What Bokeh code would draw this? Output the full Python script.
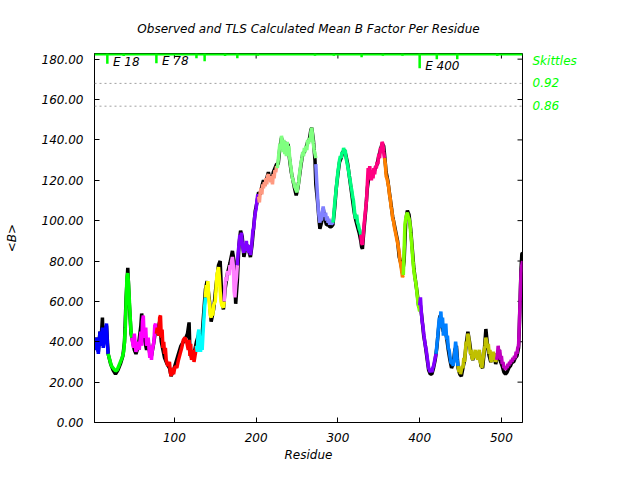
from bokeh.plotting import figure
from bokeh.models import Range1d, LinearAxis, Span, Label, NumeralTickFormatter, FixedTicker
from bokeh.embed import file_html
from bokeh.resources import INLINE

title_text = "Observed and TLS Calculated Mean B Factor Per Residue"
x_title = "Residue"
y_title = "<B>"

# ---- TLS calculated mean B, one list of (residue, B) per TLS segment ----
seg_01 = [(2, 40), (4, 36), (5, 42), (7, 34), (9, 45), (10, 38), (12, 47), (13, 37), (15, 44), (17, 49), (18, 39), (19, 34)]
seg_02 = [(19, 34), (21, 31), (23, 28), (25, 27), (28, 25.6), (30, 26), (32, 28), (34, 30), (36, 32), (38, 35), (39, 40),
          (40, 47), (41, 60), (42, 72), (43, 74), (44, 68), (45, 60), (46, 52), (47, 45), (48, 42)]
seg_03 = [(48, 42), (50, 37), (51, 44), (53, 35), (55, 40), (57, 36), (59, 45), (60, 38), (61, 50), (62, 53), (63, 42),
          (65, 47), (66, 38), (68, 42), (69, 36), (70, 32), (71, 38), (72, 31), (73, 36), (75, 40), (76, 48), (77, 49), (78, 44)]
seg_04 = [(78, 44), (79, 47), (81, 43), (82, 52), (83, 53), (84, 42), (85, 46), (86, 37), (87, 40), (88, 34), (89, 37),
          (90, 31), (92, 28), (94, 30), (95, 25), (96, 23), (97, 27), (99, 24), (101, 28), (103, 27), (105, 31), (107, 34),
          (109, 37), (111, 41), (113, 42), (115, 40), (117, 36), (118, 41), (119, 33), (120, 39), (121, 31), (123, 36),
          (124, 30), (126, 35), (127, 38)]
seg_05 = [(127, 38), (128, 35), (129, 44), (130, 46), (131, 40), (132, 35), (133, 42), (134, 36), (135, 44), (137, 57), (138, 62)]
seg_06 = [(138, 62), (139, 68), (140, 65), (141, 70), (142, 62), (143, 58), (144, 53), (145, 52), (146, 55), (147, 53),
          (148, 58), (150, 60), (151, 66), (152, 73), (153, 75), (154, 77), (155, 72), (156, 65), (157, 60), (158, 58),
          (160, 57), (161, 60)]
seg_07 = [(161, 60), (162, 68), (163, 72), (164, 70), (165, 75), (167, 73), (168, 78), (169, 76), (170, 80), (171, 82),
          (172, 78), (173, 65), (174, 62), (175, 68), (176, 72), (177, 78)]
seg_08 = [(177, 78), (178, 84), (179, 88), (180, 93), (181, 91), (182, 94), (183, 89), (184, 86), (185, 84), (186, 88),
          (187, 85), (188, 90), (189, 86), (190, 88), (191, 84), (192, 86), (193, 83), (194, 86), (195, 90), (196, 95),
          (197, 96), (198, 101), (199, 104), (200, 106), (201, 110), (202, 113), (203, 112)]
seg_09 = [(203, 112), (204, 109), (205, 114), (206, 116), (207, 113), (208, 118), (209, 116), (210, 119), (211, 117),
          (212, 121), (213, 118), (214, 122), (215, 123), (216, 120), (217, 122), (218, 119), (219, 121), (220, 118),
          (221, 123), (222, 121), (223, 125), (224, 124), (225, 127), (226, 126)]
seg_10 = [(226, 126), (227, 130), (228, 134), (229, 138), (230, 136), (231, 142), (232, 139), (233, 134), (234, 140),
          (235, 133), (236, 138), (237, 132), (238, 139), (239, 133), (240, 137), (241, 131), (242, 128), (243, 125),
          (244, 122), (245, 120), (246, 119), (247, 117), (248, 116), (249, 115), (250, 114), (251, 117), (252, 119),
          (253, 123), (254, 126), (255, 129), (256, 131), (257, 134), (258, 132), (259, 136), (260, 134), (261, 137),
          (262, 135), (263, 140), (264, 138), (265, 141), (266, 139), (267, 144), (268, 146), (269, 142), (270, 138),
          (271, 135), (272, 133), (273, 131)]
seg_11 = [(273, 128), (274, 120), (275, 113), (276, 106), (277, 102), (278, 99), (279, 103), (280, 100), (281, 104),
          (282, 107), (283, 104), (284, 102), (285, 104), (286, 100), (287, 102), (288, 99), (289, 101), (290, 98),
          (291, 100), (292, 98), (293, 99), (294, 98)]
seg_12 = [(294, 99), (295, 103), (296, 108), (297, 112), (298, 116), (299, 120), (300, 124), (301, 127), (302, 130),
          (303, 132), (304, 131), (305, 134), (306, 133), (307, 136), (308, 134), (309, 135), (310, 131), (311, 129),
          (312, 127), (313, 125), (314, 122), (315, 120), (316, 117), (317, 115), (318, 112), (319, 110), (320, 106),
          (321, 102), (322, 101), (323, 103), (324, 99), (325, 98), (326, 96), (327, 95), (328, 93)]
seg_13 = [(328, 93), (329, 89), (330, 88), (331, 93), (332, 98), (333, 102), (334, 106), (335, 110), (336, 118), (337, 126),
          (338, 124), (339, 127), (340, 122), (341, 120), (342, 125), (343, 121), (344, 126), (345, 123), (346, 127),
          (347, 126), (348, 129), (349, 128), (350, 133), (351, 131), (352, 136), (353, 134), (354, 139), (355, 138),
          (356, 134), (357, 131)]
seg_14 = [(357, 131), (358, 128), (359, 122), (360, 121), (361, 119), (362, 117), (363, 113), (364, 111), (365, 107),
          (366, 105), (367, 101), (368, 100), (369, 97), (370, 95), (371, 93), (372, 91), (373, 89), (374, 87), (375, 84),
          (376, 80), (377, 78), (378, 75), (379, 72), (380, 73)]
seg_15 = [(380, 73), (381, 85), (382, 98), (383, 101), (384, 103), (385, 104), (386, 102), (387, 101), (388, 99), (389, 94),
          (390, 90), (391, 84), (392, 79), (393, 75), (394, 72), (395, 70), (396, 67), (397, 63), (398, 59), (399, 57), (400, 55)]
seg_16 = [(400, 58), (401, 62), (402, 55), (403, 50), (404, 48), (405, 44), (406, 41), (407, 38), (408, 36), (409, 33),
          (410, 30), (411, 27), (412, 26), (413, 25), (414, 26), (415, 25), (416, 27), (417, 28), (418, 30), (419, 32), (420, 34)]
seg_17 = [(420, 34), (421, 38), (422, 42), (423, 47), (424, 52), (425, 50), (426, 55), (427, 47), (428, 52), (429, 43),
          (430, 48), (431, 45), (432, 49), (433, 41), (434, 43), (435, 37), (436, 36), (437, 33), (438, 30), (439, 29),
          (440, 31), (441, 28), (442, 31), (443, 35), (444, 40), (445, 36), (446, 31), (447, 28)]
seg_18 = [(447, 28), (448, 25), (449, 27), (450, 24), (451, 26), (452, 28), (453, 27), (454, 32), (455, 30), (456, 36),
          (457, 40), (458, 38), (459, 44), (460, 42), (461, 38), (462, 34), (463, 36), (464, 32), (465, 31), (466, 35),
          (467, 33), (468, 36), (469, 32), (470, 35), (471, 31), (472, 34), (473, 36), (474, 30), (475, 29), (476, 27),
          (477, 30), (478, 33), (479, 36), (480, 38), (481, 42), (482, 40), (483, 37), (484, 39), (485, 34), (486, 36),
          (487, 31), (488, 30), (489, 33), (490, 35), (491, 32), (492, 34), (493, 30), (494, 31)]
seg_19 = [(494, 31), (495, 33), (496, 38), (497, 34), (498, 36), (499, 31), (500, 33), (501, 29), (502, 30), (503, 27),
          (504, 28), (505, 26), (506, 28), (507, 27), (508, 29), (509, 28), (510, 30), (511, 29), (512, 31), (513, 30),
          (514, 32), (515, 31), (516, 33), (517, 32), (518, 35), (519, 34), (520, 37), (521, 38), (522, 50), (523, 62),
          (524, 74), (525, 78), (526, 80)]

segments = [seg_01, seg_02, seg_03, seg_04, seg_05, seg_06, seg_07, seg_08, seg_09, seg_10,
            seg_11, seg_12, seg_13, seg_14, seg_15, seg_16, seg_17, seg_18, seg_19]
segment_colors = ["#0000ff", "#00ff00", "#ff00ff", "#ff0000", "#00ffff", "#ffff00", "#ff80ff", "#8000ff", "#ff9980",
                  "#80ff80", "#8080ff", "#00ff80", "#ff0080", "#ff8000", "#80ff00", "#8000ff", "#0080ff", "#c0c000", "#c000c0"]

# ---- observed mean B ----
observed = [(2, 41), (4, 37), (5, 42), (7, 35), (9, 45), (10, 39), (12, 52), (13, 38), (15, 44), (17, 48), (19, 34), (22, 29),
            (25, 26), (28, 24), (31, 26), (34, 29), (37, 33), (39, 40), (41, 62), (43, 76.6), (45, 58), (47, 44), (49, 40),
            (51, 36), (53, 34), (56, 38), (59, 48), (60, 54), (62, 44), (64, 40), (66, 36), (68, 40), (70, 34), (72, 33),
            (75, 40), (77, 46), (79, 45), (82, 50), (84, 40), (86, 36), (88, 32), (91, 29), (94, 27), (96, 23), (99, 26),
            (102, 30), (105, 34), (108, 38), (111, 40), (114, 42), (116, 44), (118, 49.6), (119, 36), (121, 32), (124, 34),
            (127, 40), (130, 44), (133, 38), (136, 55), (138, 66), (140, 70), (143, 60), (145, 50), (148, 56), (151, 68),
            (154, 78), (156, 80), (158, 62), (160, 56), (162, 66), (165, 74), (168, 79), (171, 85), (173, 80), (175, 58.8),
            (177, 70), (179, 88), (181, 95), (183, 92), (185, 82), (187, 86), (189, 88), (191, 85), (193, 82), (195, 88),
            (197, 97), (199, 105), (201, 109), (203, 114), (205, 113), (207, 117), (209, 120), (211, 118), (213, 121),
            (215, 124), (217, 120), (219, 120), (221, 124), (223, 126), (225, 128), (227, 128), (229, 136), (231, 141),
            (233, 137), (235, 139), (237, 136), (239, 138), (241, 130), (243, 124), (245, 120), (247, 116), (249, 112.5),
            (251, 116), (253, 122), (255, 128), (257, 133), (259, 134), (261, 136), (263, 139), (265, 140), (267, 145),
            (268, 146), (270, 140), (272, 130), (273, 118), (275, 110), (277, 100), (278, 96), (280, 99), (282, 106),
            (284, 101), (286, 98), (288, 98), (290, 97), (292, 97), (294, 98), (296, 106), (298, 116), (300, 123),
            (302, 129), (304, 131), (306, 134), (308, 135), (310, 132), (312, 128), (314, 122), (316, 116), (318, 110),
            (320, 104), (322, 100), (324, 97), (326, 94), (328, 90), (329, 87), (330, 86), (332, 96), (334, 105),
            (336, 116), (338, 122), (340, 121), (342, 123), (344, 124), (346, 126), (348, 128), (350, 132), (352, 135),
            (354, 138), (356, 137), (357, 133), (359, 124), (361, 120), (363, 114), (365, 108), (367, 102), (369, 98),
            (371, 94), (373, 90), (375, 82), (377, 79), (379, 74), (381, 80), (383, 100), (385, 105), (387, 103),
            (389, 96), (391, 86), (393, 76), (395, 70), (397, 64), (399, 57), (401, 58), (403, 51), (405, 43), (407, 38),
            (409, 32), (411, 26), (413, 24), (415, 24), (417, 27), (419, 31), (421, 37), (423, 46), (425, 53), (427, 49),
            (429, 45), (431, 46), (433, 42), (435, 36), (437, 31), (439, 27), (441, 29), (443, 36), (445, 38), (447, 27),
            (449, 24), (451, 23), (453, 27), (455, 31), (457, 39), (459, 45), (461, 40), (463, 34), (465, 31), (467, 34),
            (469, 33), (471, 32), (473, 35), (475, 28), (477, 27), (479, 35), (481, 46.3), (483, 38), (485, 33), (487, 30),
            (489, 32), (491, 34), (493, 29), (495, 32), (497, 36), (499, 30), (501, 28), (503, 25), (505, 24), (507, 25),
            (509, 27), (511, 28), (513, 30), (515, 30), (517, 32), (519, 33), (521, 37), (522, 48), (523, 62), (524, 76),
            (525, 83.5), (526, 84)]

# ---- skittles (segment marks hanging from the top) ----
skittle_res = [18, 38, 78, 127, 137, 162, 177, 202, 272, 295, 329, 355, 379, 400, 421, 446, 495]
skittle_tip = [177.7, 181.5, 178, 180.5, 179, 181.5, 180.5, 181.7, 181.7, 181.7, 181, 181.7, 181.7, 175.5, 180, 180, 181.5]
mark_labels = ["E 18", "E 78", "E 400"]
mark_res = [18, 78, 400]
mark_tip = [177.7, 178, 175.5]

ref_levels = [168.0, 156.7]
ref_labels = ["0.92", "0.86"]
skittles_title = "Skittles"
skittles_title_level = 179.0

x_ticks = [100, 200, 300, 400, 500]
y_ticks = [0, 20, 40, 60, 80, 100, 120, 140, 160, 180]

X0, X1 = 2.3, 525.8
Y0, Y1 = 0.0, 182.8
FONT = "DejaVu Sans"
GREEN = "#00ff00"

p = figure(width=624, height=464, output_backend="svg", toolbar_location=None,
           x_range=Range1d(X0, X1), y_range=Range1d(Y0, Y1),
           min_border_left=94, min_border_right=102, min_border_top=53, min_border_bottom=42)
p.xgrid.visible = False
p.ygrid.visible = False
p.outline_line_color = "black"
p.outline_line_width = 1
p.background_fill_color = "white"
p.border_fill_color = "white"

p.title.text = title_text
p.title.text_font = FONT
p.title.text_font_style = "italic"
p.title.text_font_size = "12px"
p.title.text_color = "black"
p.title.align = "center"
p.title.standoff = 35

def style_axis(ax):
    ax.major_tick_in = 5
    ax.major_tick_out = 0
    ax.minor_tick_in = 0
    ax.minor_tick_out = 0
    ax.axis_line_color = "black"
    ax.major_tick_line_color = "black"
    ax.major_label_text_font = FONT
    ax.major_label_text_font_style = "italic"
    ax.major_label_text_font_size = "12px"
    ax.major_label_text_color = "black"
    ax.axis_label_text_font = FONT
    ax.axis_label_text_font_style = "italic"
    ax.axis_label_text_font_size = "12px"
    ax.axis_label_text_color = "black"

xa = p.xaxis[0]
xa.ticker = FixedTicker(ticks=x_ticks)
style_axis(xa)
xa.major_label_standoff = 10
xa.axis_label = x_title
xa.axis_label_standoff = 3

ya = p.yaxis[0]
ya.ticker = FixedTicker(ticks=y_ticks)
ya.formatter = NumeralTickFormatter(format="0.00")
style_axis(ya)
ya.major_label_standoff = 11
ya.axis_label = y_title
ya.axis_label_standoff = 20

# right-hand skittles labels as an axis
rlevels = [skittles_title_level] + ref_levels
ra = LinearAxis(ticker=FixedTicker(ticks=rlevels),
                major_label_overrides={lv: t for lv, t in zip(rlevels, [skittles_title] + ref_labels)})
ra.axis_line_color = None
ra.major_tick_line_color = None
ra.major_tick_in = 0
ra.major_tick_out = 0
ra.minor_tick_in = 0
ra.minor_tick_out = 0
ra.major_label_standoff = 10
ra.major_label_text_font = FONT
ra.major_label_text_font_style = "italic"
ra.major_label_text_font_size = "12px"
ra.major_label_text_color = GREEN
p.add_layout(ra, "right")

# reference dotted lines
for lv in ref_levels:
    p.add_layout(Span(location=lv, dimension="width", line_color="#a0a0a0", line_width=1, line_dash="2 3"))

# mirror ticks (right and top)
p.segment(x0=[X1] * len(y_ticks), x1=[X1 - 6.1] * len(y_ticks), y0=y_ticks, y1=y_ticks, line_color="black", line_width=1)
p.segment(x0=x_ticks, x1=x_ticks, y0=[Y1] * len(x_ticks), y1=[Y1 - 2.5] * len(x_ticks), line_color="black", line_width=1)

# observed then calculated segments
p.line([r for r, b in observed], [b for r, b in observed], line_color="black", line_width=3.5)
for seg, col in zip(segments, segment_colors):
    p.line([r for r, b in seg], [b for r, b in seg], line_color=col, line_width=3.5)

# skittles
p.add_layout(Span(location=Y1 - 0.4, dimension="width", line_color=GREEN, line_width=2.5))
p.segment(x0=skittle_res, y0=[Y1] * len(skittle_res), x1=skittle_res, y1=skittle_tip,
          line_color=GREEN, line_width=2.5)
for txt, r, tip in zip(mark_labels, mark_res, mark_tip):
    p.add_layout(Label(x=r + 6.8, y=tip + 0.9, text=txt, text_font=FONT, text_font_style="italic",
                       text_font_size="12px", text_color="black", text_align="left", text_baseline="middle"))

open("out.html", "w").write(file_html(p, INLINE))
